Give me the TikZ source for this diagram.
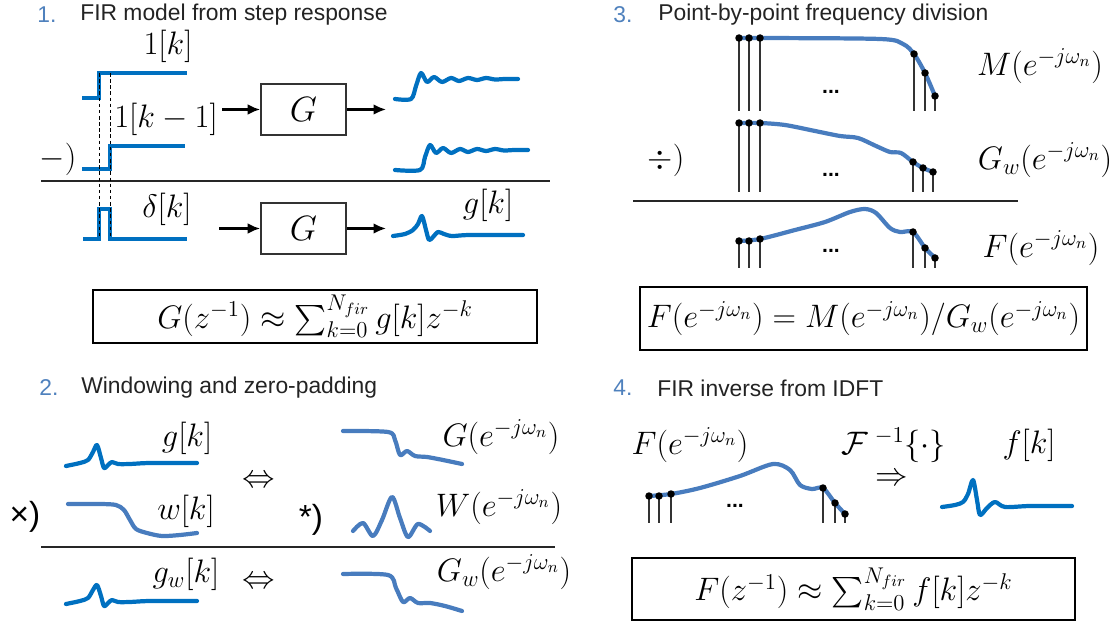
\RequirePackage{fix-cm}
\documentclass[tikz,border=0pt]{standalone}
\usepackage{fontspec}
\setsansfont{Liberation Sans}
\usepackage{amsmath}
\usetikzlibrary{arrows.meta, positioning}
\definecolor{stepblue}{RGB}{0,112,192}
\definecolor{freqblue}{RGB}{72,124,190}
\definecolor{numblue}{RGB}{79,129,189}
\definecolor{hdrgray}{RGB}{35,35,35}
\tikzset{
  hdrnum/.style={font=\sffamily\fontsize{13}{15}\selectfont, text=numblue,
    anchor=west, inner sep=0pt},
  hdrtxt/.style={font=\sffamily\fontsize{13}{15}\selectfont, text=hdrgray,
    anchor=west, inner sep=0pt},
  lbl/.style={font=\fontsize{18.5}{21}\selectfont, inner sep=1pt},
  oplbl/.style={font=\sffamily\fontsize{19}{21}\selectfont, inner sep=1pt},
  dotlbl/.style={font=\sffamily\bfseries\fontsize{12}{13}\selectfont, inner sep=0pt},
  gbox/.style={draw=black!80, line width=1.1pt, minimum width=1.7cm,
    minimum height=1.02cm, inner sep=0pt, font=\fontsize{20}{22}\selectfont},
  eqbox/.style={draw=black, line width=1.6pt, inner sep=0pt,
    font=\fontsize{18.5}{21}\selectfont},
  arr/.style={-{Latex[length=7pt,width=6pt]}, line width=1.2pt},
  stepline/.style={stepblue, line width=2.4pt},
  stepcurve/.style={stepblue, line width=2.4pt, line join=round, line cap=round},
  freqcurve/.style={freqblue, line width=2.4pt, line join=round, line cap=round},
  stem/.style={black!80, line width=0.6pt},
  guide/.style={black, line width=0.5pt, dash pattern=on 2pt off 1.5pt},
  sepline/.style={black!85, line width=0.8pt}
}

\begin{document}
\begin{tikzpicture}[x=0.02cm, y=-0.02cm]
  \useasboundingbox (0,0) rectangle (1111,624);

  % ---- 1. FIR model from step response
  \node[hdrnum] (numOne) at (37,15) {1.};
  \node[hdrtxt] (hdrOne) at (80,15) {FIR model from step response};
  % unit step and delayed step
  \draw[stepline] (82,98) -- (99,98) -- (99,73) -- (187,73);
  \node[lbl] (lblStep) at (168,46) {$1[k]$};
  \node[lbl] (lblStepD) at (166,119) {$1[k-1]$};
  \draw[stepline] (82,169) -- (110,169) -- (110,146) -- (185,146);
  \node[lbl] (lblMinus) at (58,159) {$-)$};
  \draw[sepline] (41,181) -- (550,181);
  % impulse
  \draw[stepline] (83,239) -- (99,239) -- (99,209) -- (110,209) -- (110,239) -- (187,239);
  \node[lbl] (lblDelta) at (167,209) {$\delta[k]$};
  \draw[guide] (99,73) -- (99,239);
  \draw[guide] (110,73) -- (110,239);
  % system blocks
  \node[gbox] (boxA) at (303.5,109.5) {$G$};
  \node[gbox] (boxB) at (303.5,228.5) {$G$};
  \coordinate (inA) at (222,109.5);
  \coordinate (outA) at (386,109.5);
  \coordinate (inB) at (219,228.5);
  \coordinate (outB) at (386,228.5);
  \draw[arr] (inA) -- (boxA.west);
  \draw[arr] (boxA.east) -- (outA);
  \draw[arr] (inB) -- (boxB.west);
  \draw[arr] (boxB.east) -- (outB);
  % responses
  \draw[stepcurve] plot[smooth, tension=0.5] coordinates {(395,99) (411,99) (416,86) (421,73)
    (427,82) (434,77) (442,82) (451,78) (459,81) (468,78) (477,80) (486,78) (495,79.5) (505,79) (518,79)};
  \draw[stepcurve, shift={(9,71)}] plot[smooth, tension=0.5] coordinates {(386,99) (411,99) (416,86) (421,74)
    (427,82) (434,77) (442,82) (451,78) (459,81) (468,78) (477,80) (486,78) (495,79.5) (505,79) (519,79)};
  \draw[stepcurve] plot[smooth, tension=0.5] coordinates {(393,236) (405,234) (413,230) (418,224) (422,216)
    (426,230) (429,240) (433,237) (438,232) (444,234) (452,236) (470,235) (523,235)};
  \node[lbl] (lblImp) at (488,205) {$g[k]$};
  \node[eqbox, minimum width=8.88cm, minimum height=1.06cm] (eqOne) at (315,316.5)
    {$G(z^{-1}) \approx \sum_{k=0}^{N_{fir}} g[k]z^{-k}$};

  % ---- 2. Windowing and zero-padding
  \node[hdrnum] (numTwo) at (39,388) {2.};
  \node[hdrtxt] (hdrTwo) at (81,388) {Windowing and zero-padding};
  \draw[stepcurve] plot[smooth, tension=0.5] coordinates {(66,466) (80,463) (88,460) (93,452) (97,445)
    (101,458) (104,468) (108,465) (112,462) (118,464) (130,464) (150,463) (197,463)};
  \node[lbl] (lblG) at (187,438) {$g[k]$};
  \draw[freqcurve] plot[smooth, tension=0.5] coordinates {(68,504) (100,504) (116,505) (124,510)
    (130,520) (136,529) (147,533) (162,536) (180,535) (197,533)};
  \node[lbl] (lblW) at (186,511) {$w[k]$};
  \node[oplbl] (opTimes) at (25,517) {×)};
  \node[lbl] (eqvTop) at (259,482) {$\Leftrightarrow$};
  \node[oplbl] (opConv) at (311,520) {*)};
  \draw[freqcurve] plot[smooth, tension=0.5] coordinates {(343,431) (388,432) (395,440) (400,455)
    (407,451) (415,456) (427,457) (443,460) (462,464)};
  \node[lbl] (lblGf) at (501,437) {$G(e^{-j\omega_n})$};
  \draw[freqcurve] plot[smooth, tension=0.5] coordinates {(353,531) (363,523) (373,536) (382,520)
    (392,497) (400,518) (408,537) (418,524) (430,531)};
  \node[lbl] (lblWf) at (499,507) {$W(e^{-j\omega_n})$};
  \draw[sepline] (41,547) -- (555,547);
  \draw[stepcurve, shift={(0,138)}] plot[smooth, tension=0.5] coordinates {(66,466) (80,463) (88,460)
    (93,452) (97,447) (101,458) (104,468) (108,465) (112,462) (118,464) (130,464) (150,463) (197,463)};
  \node[lbl] (lblGw) at (186,574) {$g_w[k]$};
  \node[lbl] (eqvBot) at (259,583) {$\Leftrightarrow$};
  \draw[freqcurve] plot[smooth, tension=0.5] coordinates {(343,574) (388,575) (396,588) (403,602)
    (410,598) (418,603) (430,603) (445,606) (462,611)};
  \node[lbl] (lblGwf) at (504,572) {$G_w(e^{-j\omega_n})$};

  % ---- 3. Point-by-point frequency division
  \node[hdrnum] (numThree) at (613,15) {3.};
  \node[hdrtxt] (hdrThree) at (658,15) {Point-by-point frequency division};
  \draw[freqcurve] plot[smooth, tension=0.5] coordinates {(739,38) (760,38) (880,39) (903,44)
    (914,54) (925,73) (935,96)};
  \foreach \x/\y in {739/38, 749/38, 760/38, 914/54, 925/73, 935/96} {
    \draw[stem] (\x,\y) -- (\x,111);
    \fill (\x,\y) circle[radius=0.075cm];
  }
  \node[dotlbl] (dotsM) at (831,92) {...};
  \node[lbl] (lblM) at (1040,66) {$M(e^{-j\omega_n})$};
  \draw[freqcurve] plot[smooth, tension=0.5] coordinates {(739,123) (760,123) (785,125) (815,131)
    (840,136) (858,138) (876,146) (890,152) (901,153) (913,162) (923,168) (933,172)};
  \foreach \x/\y in {739/123, 749/123, 760/123, 913/162, 923/168, 933/172} {
    \draw[stem] (\x,\y) -- (\x,192);
    \fill (\x,\y) circle[radius=0.075cm];
  }
  \node[dotlbl] (dotsG) at (831,175) {...};
  \node[lbl] (lblDiv) at (666,160) {$\div)$};
  \node[lbl] (lblGm) at (1045,160) {$G_w(e^{-j\omega_n})$};
  \draw[sepline] (633,201) -- (1018,201);
  \draw[freqcurve] plot[smooth, tension=0.5] coordinates {(739,241) (760,239) (795,230) (825,222)
    (850,212) (865,209) (876,213) (890,228) (900,232) (913,232) (925,248) (932,255) (935,258)};
  \foreach \x/\y in {739/241, 749/241, 760/239, 913/232, 925/248, 935/258} {
    \draw[stem] (\x,\y) -- (\x,268);
    \fill (\x,\y) circle[radius=0.075cm];
  }
  \node[dotlbl] (dotsF) at (831,251) {...};
  \node[lbl] (lblF) at (1041,248) {$F(e^{-j\omega_n})$};
  \node[eqbox, minimum width=8.94cm, minimum height=1.26cm] (eqThree) at (863.5,318.5)
    {$F(e^{-j\omega_n}) = M(e^{-j\omega_n})/G_w(e^{-j\omega_n})$};

  % ---- 4. FIR inverse from IDFT
  \node[hdrnum] (numFour) at (613,388) {4.};
  \node[hdrtxt] (hdrFour) at (657,388) {FIR inverse from IDFT};
  \node[lbl] (lblFin) at (690,445) {$F(e^{-j\omega_n})$};
  \draw[freqcurve] plot[smooth, tension=0.5] coordinates {(649,496) (671,494) (700,488) (740,476)
    (773,464) (790,470) (800,485) (812,489) (823,488) (835,503) (845,514)};
  \foreach \x/\y in {649/496, 659/496, 671/494, 823/488, 835/503, 845/514} {
    \draw[stem] (\x,\y) -- (\x,523);
    \fill (\x,\y) circle[radius=0.075cm];
  }
  \node[dotlbl] (dotsFin) at (735,506) {...};
  \node[lbl] (lblIdft) at (894,445) {$\mathcal{F}^{\;-1}\{\cdot\}$};
  \node[lbl] (impl) at (892,480) {$\Rightarrow$};
  \node[lbl] (lblFk) at (1029,445) {$f[k]$};
  \draw[stepcurve] plot[smooth, tension=0.5] coordinates {(942,507) (955,505) (963,502) (968,494)
    (973,480) (977,500) (980,515) (987,508) (995,502) (1005,507) (1030,506) (1072,506)};
  \node[eqbox, minimum width=8.86cm, minimum height=1.24cm] (eqFour) at (853.5,589)
    {$F(z^{-1}) \approx \sum_{k=0}^{N_{fir}} f[k]z^{-k}$};
\end{tikzpicture}
\end{document}
